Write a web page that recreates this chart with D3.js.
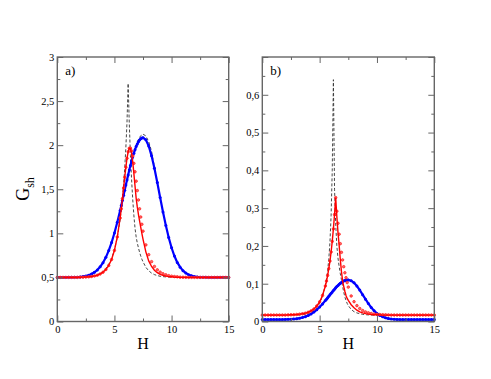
<!DOCTYPE html>
<html><head><meta charset="utf-8">
<script src="https://cdn.jsdelivr.net/npm/d3@7"></script>
<style>body{margin:0;background:#fff}svg{display:block}svg text{font-family:"Liberation Serif","Times New Roman",serif}</style>
</head><body>
<svg id="c" width="491" height="379"></svg>
<script>
// shared H grid (both panels)
const H = [0,0.25,0.5,0.75,1,1.25,1.5,1.75,2,2.25,2.5,2.75,3,3.25,3.5,3.75,4,4.25,4.5,4.75,5,5.25,5.5,
  5.6,5.7,5.8,5.9,6.0,6.1,6.2,6.3,6.4,6.5,6.6,6.7,6.8,6.9,7.0,7.1,7.2,7.3,7.4,
  7.5,7.75,8,8.25,8.5,8.75,9,9.25,9.5,9.75,10,10.25,10.5,10.75,11,11.25,11.5,11.75,12,12.25,12.5,12.75,13,13.25,13.5,13.75,14,14.25,14.5,14.75,15];

// panel a)
const aBlue = [0.500,0.500,0.500,0.500,0.501,0.501,0.502,0.503,0.506,0.510,0.516,0.525,0.539,0.558,0.584,0.620,0.667,0.728,0.804,0.895,1.003,1.125,1.260,
  1.317,1.374,1.432,1.490,1.548,1.606,1.662,1.717,1.769,1.819,1.866,1.909,1.949,1.984,2.014,2.039,2.059,2.073,2.082,
  2.085,2.061,1.990,1.879,1.737,1.576,1.407,1.242,1.088,0.952,0.836,0.743,0.670,0.616,0.576,0.549,0.530,0.518,0.510,0.506,0.503,0.502,0.501,0.500,0.500,0.500,0.500,0.500,0.500,0.500,0.500];
const aRedLine = [0.500,0.500,0.500,0.500,0.500,0.500,0.500,0.500,0.502,0.503,0.505,0.507,0.511,0.517,0.525,0.539,0.559,0.589,0.635,0.703,0.806,0.959,1.174,
  1.278,1.393,1.514,1.635,1.750,1.851,1.925,1.965,1.964,1.910,1.810,1.680,1.540,1.400,1.300,1.215,1.140,1.070,1.000,
  0.935,0.790,0.687,0.624,0.582,0.554,0.535,0.523,0.515,0.510,0.507,0.503,0.502,0.501,0.500,0.500,0.500,0.500,0.500,0.500,0.500,0.500,0.500,0.500,0.500,0.500,0.500,0.500,0.500,0.500,0.500];
const aRedPts = [0.500,0.500,0.500,0.500,0.500,0.500,0.500,0.500,0.502,0.503,0.505,0.507,0.511,0.517,0.525,0.539,0.559,0.589,0.635,0.703,0.806,0.959,1.174,
  1.278,1.393,1.514,1.635,1.750,1.851,1.925,1.965,1.966,1.935,1.876,1.794,1.698,1.592,1.485,1.379,1.278,1.185,1.103,
  1.025,0.869,0.758,0.679,0.624,0.586,0.560,0.541,0.529,0.520,0.514,0.510,0.507,0.503,0.502,0.501,0.500,0.500,0.500,0.500,0.500,0.500,0.500,0.500,0.500,0.500,0.500,0.500,0.500,0.500,0.500];
const aDash = [0.500,0.500,0.500,0.500,0.500,0.500,0.501,0.502,0.503,0.504,0.506,0.509,0.514,0.520,0.530,0.545,0.567,0.600,0.648,0.712,0.817,0.952,1.158,
  1.268,1.401,1.549,1.736,1.974,2.261,2.700,2.243,1.882,1.613,1.387,1.206,1.060,0.960,0.890,0.836,0.786,0.744,0.707,
  0.677,0.615,0.575,0.549,0.532,0.521,0.513,0.509,0.506,0.504,0.502,0.501,0.500,0.500,0.500,0.500,0.500,0.500,0.500,0.500,0.500,0.500,0.500,0.500,0.500,0.500,0.500,0.500,0.500,0.500,0.500];
const aDash2H = [6.5,6.75,7.0,7.25,7.5,7.75,8.0,8.25,8.5];
const aDash2 = [1.82,1.94,2.04,2.10,2.125,2.105,2.04,1.93,1.75];

// panel b)
const bRedLine = [0.017,0.017,0.017,0.017,0.017,0.017,0.017,0.017,0.017,0.0175,0.0177,0.018,0.0186,0.0194,0.0205,0.022,0.0245,0.028,0.033,0.041,0.052,0.069,0.094,
  0.107,0.122,0.140,0.160,0.184,0.212,0.245,0.283,0.328,0.278,0.236,0.202,0.165,0.133,0.108,0.093,0.080,0.069,0.061,
  0.0557,0.0443,0.0363,0.030,0.0257,0.0228,0.0209,0.0196,0.0187,0.018,0.0177,0.0174,0.017,0.017,0.017,0.017,0.017,0.017,0.017,0.017,0.017,0.017,0.017,0.017,0.017,0.017,0.017,0.017,0.017,0.017,0.017];
const bRedPts = [0.017,0.017,0.017,0.017,0.017,0.017,0.017,0.017,0.017,0.0175,0.0177,0.018,0.0186,0.0194,0.0205,0.022,0.0245,0.028,0.033,0.041,0.052,0.069,0.094,
  0.107,0.122,0.140,0.160,0.184,0.212,0.245,0.283,0.328,0.292,0.260,0.231,0.206,0.183,0.163,0.145,0.129,0.116,0.103,
  0.091,0.0676,0.0525,0.042,0.0344,0.029,0.0254,0.0229,0.0211,0.0199,0.019,0.0185,0.018,0.0177,0.0175,0.017,0.017,0.017,0.017,0.017,0.017,0.017,0.017,0.017,0.017,0.017,0.017,0.017,0.017,0.017,0.017];
const bBlue = [0.005,0.005,0.005,0.005,0.005,0.005,0.005,0.005,0.0054,0.0057,0.0061,0.0067,0.0076,0.0088,0.0106,0.0129,0.0161,0.0201,0.0251,0.0312,0.0383,0.0464,0.0554,
  0.0591,0.0629,0.0668,0.0706,0.0745,0.0783,0.0820,0.0856,0.0891,0.0924,0.0955,0.0984,0.1010,0.1033,0.1053,0.1070,0.1083,0.1092,0.1098,
  0.1100,0.1081,0.1025,0.0939,0.0831,0.0711,0.0590,0.0474,0.0372,0.0285,0.0215,0.0162,0.0123,0.0096,0.0078,0.0066,0.0059,0.0055,0.0052,0.005,0.005,0.005,0.005,0.005,0.005,0.005,0.005,0.005,0.005,0.005,0.005];
const bDash = [0.017,0.017,0.017,0.017,0.017,0.017,0.017,0.017,0.017,0.017,0.017,0.017,0.017,0.017,0.018,0.019,0.021,0.024,0.029,0.036,0.048,0.067,0.096,
  0.113,0.135,0.165,0.210,0.280,0.400,0.640,0.350,0.258,0.200,0.168,0.146,0.127,0.111,0.093,0.078,0.065,0.056,0.048,
  0.042,0.032,0.026,0.0227,0.0207,0.019,0.018,0.0175,0.017,0.017,0.017,0.017,0.017,0.017,0.017,0.017,0.017,0.017,0.017,0.017,0.017,0.017,0.017,0.017,0.017,0.017,0.017,0.017,0.017,0.017,0.017];

// ticks
const xMajor = [0,5,10,15], xMinor = [2.5,7.5,12.5];
const aYMajor = [0,0.5,1,1.5,2,2.5,3], aYMinor = [0.25,0.75,1.25,1.75,2.25,2.75];
const bYMajor = [0,0.1,0.2,0.3,0.4,0.5,0.6,0.7], bYMinor = [0.05,0.15,0.25,0.35,0.45,0.55,0.65];

const svg = d3.select('#c');
const FONT = '"Liberation Serif","Times New Roman",serif';
const AX = '#666';
const fmt = d => String(+d.toFixed(2)).replace('.', ',');

function panel(o) {
  const x = d3.scaleLinear().domain([0,15]).range([o.x0, o.x1]);
  const y = d3.scaleLinear().domain([0, o.ymax]).range([o.y1, o.y0]);
  const g = svg.append('g');
  const pts = v => H.map((h,i) => [h, v[i]]);
  const line = d3.line().x(d => x(d[0])).y(d => y(d[1]));

  // dashed (theory) curves underneath
  o.dashes.forEach(dd => {
    g.append('path').attr('d', line(dd)).attr('fill','none')
      .attr('stroke','#333').attr('stroke-width',0.9).attr('stroke-dasharray','3,2');
  });
  // blue
  g.append('path').attr('d', line(pts(o.blue))).attr('fill','none').attr('stroke','#0000ff').attr('stroke-width',2.2);
  g.append('g').selectAll('circle').data(pts(o.blue)).join('circle')
    .attr('cx', d => x(d[0])).attr('cy', d => y(d[1])).attr('r',1.5).attr('fill','#0000ff');
  // red
  g.append('g').selectAll('circle').data(pts(o.redPts)).join('circle')
    .attr('cx', d => x(d[0])).attr('cy', d => y(d[1])).attr('r',1.25)
    .attr('fill','#ff6a6a').attr('stroke','#ff2020').attr('stroke-width',0.8);
  g.append('path').attr('d', line(pts(o.redLine))).attr('fill','none').attr('stroke','#ff0000').attr('stroke-width',1.4);

  // axes (ticks inward on all sides)
  const strip = s => { s.attr('font-family', FONT); s.select('.domain').remove(); s.selectAll('line').attr('stroke', AX).attr('stroke-width',1); };
  const txt = s => s.selectAll('text').attr('font-family', FONT).style('font-family', FONT).style('font-size', '10.5px').attr('fill','#000');
  g.append('g').attr('transform',`translate(0,${o.y1})`)
    .call(d3.axisBottom(x).tickValues(xMajor).tickSize(-6).tickPadding(4).tickFormat(fmt)).call(strip).call(txt);
  g.append('g').attr('transform',`translate(0,${o.y1})`)
    .call(d3.axisBottom(x).tickValues(xMinor).tickSize(-3).tickFormat('')).call(strip);
  g.append('g').attr('transform',`translate(0,${o.y0})`)
    .call(d3.axisTop(x).tickValues(xMajor).tickSize(-6).tickFormat('')).call(strip);
  g.append('g').attr('transform',`translate(0,${o.y0})`)
    .call(d3.axisTop(x).tickValues(xMinor).tickSize(-3).tickFormat('')).call(strip);
  g.append('g').attr('transform',`translate(${o.x0},0)`)
    .call(d3.axisLeft(y).tickValues(o.yMajor).tickSize(-6).tickPadding(3).tickFormat(d => o.yLabels.includes(d) ? fmt(d) : '')).call(strip).call(txt);
  g.append('g').attr('transform',`translate(${o.x0},0)`)
    .call(d3.axisLeft(y).tickValues(o.yMinor).tickSize(-3).tickFormat('')).call(strip);
  g.append('g').attr('transform',`translate(${o.x1},0)`)
    .call(d3.axisRight(y).tickValues(o.yMajor).tickSize(-6).tickFormat('')).call(strip);
  g.append('g').attr('transform',`translate(${o.x1},0)`)
    .call(d3.axisRight(y).tickValues(o.yMinor).tickSize(-3).tickFormat('')).call(strip);

  g.append('rect').attr('x',o.x0).attr('y',o.y0).attr('width',o.x1-o.x0).attr('height',o.y1-o.y0)
    .attr('fill','none').attr('stroke',AX).attr('stroke-width',1.4);

  g.append('text').attr('x', o.x0 + 8).attr('y', o.y0 + 18).style('font-size','13px').text(o.tag);
  g.append('text').attr('x', (o.x0+o.x1)/2).attr('y', o.y1 + 27).attr('text-anchor','middle')
    .style('font-size','16px').text('H');
  return {x, y};
}

const A = panel({x0:57.3, x1:228.7, y0:57, y1:321.5, ymax:3, yMajor:aYMajor, yMinor:aYMinor, yLabels:aYMajor,
  blue:aBlue, redLine:aRedLine, redPts:aRedPts, tag:'a)',
  dashes:[H.map((h,i)=>[h,aDash[i]]), aDash2H.map((h,i)=>[h,aDash2[i]])]});
const B = panel({x0:262.3, x1:434.3, y0:57, y1:321.5, ymax:0.7, yMajor:bYMajor, yMinor:bYMinor, yLabels:[0,0.1,0.2,0.3,0.4,0.5,0.6],
  blue:bBlue, redLine:bRedLine, redPts:bRedPts, tag:'b)',
  dashes:[H.map((h,i)=>[h,bDash[i]])]});

// y-axis title G_sh (rotated)
const t = svg.append('text').attr('transform','translate(29,189) rotate(-90)').attr('text-anchor','middle')
  .style('font-size','18px');
t.append('tspan').text('G');
t.append('tspan').style('font-size','12px').attr('dy',5).text('sh');
</script>
</body></html>
